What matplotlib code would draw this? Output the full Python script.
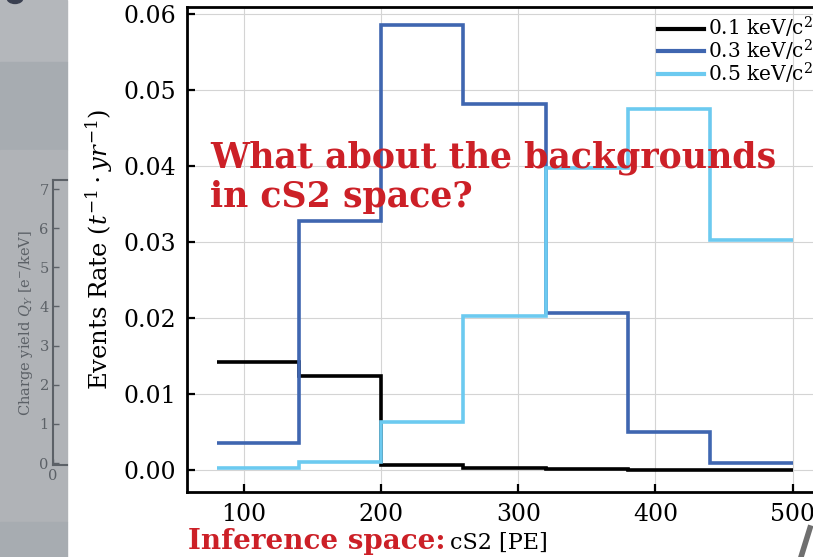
import matplotlib.pyplot as plt
from matplotlib.patches import Rectangle, Circle
from matplotlib.lines import Line2D

# cS2 bin edges [PE]
edges = [80, 140, 200, 260, 320, 380, 440, 500]

# event rates per bin (t^-1 yr^-1)
rate_01 = [0.0142, 0.0124, 0.0007, 0.0002, 0.0001, 0.0, 0.0]
rate_03 = [0.0036, 0.0328, 0.0585, 0.0482, 0.0207, 0.0050, 0.0009]
rate_05 = [0.0002, 0.0011, 0.0063, 0.0202, 0.0397, 0.0475, 0.0302]

labels = ['0.1 keV/c$^2$', '0.3 keV/c$^2$', '0.5 keV/c$^2$']
colors = ['black', '#3f66b0', '#6ccaf0']

# the half-hidden panel on the left
qy_ticks = [0, 1, 2, 3, 4, 5, 6, 7]

W, H = 813, 557
plt.rcParams['font.family'] = 'DejaVu Serif'
plt.rcParams['mathtext.fontset'] = 'dejavuserif'

fig = plt.figure(figsize=(W / 100, H / 100), dpi=100)
fig.patch.set_facecolor('white')

# grey slide strip on the left
for y0, y1, c in [(0, 62, '#b4b7bb'), (62, 150, '#a7acb1'),
                  (150, 522, '#b0b3b7'), (522, 557, '#a7acb1')]:
    fig.patches.append(Rectangle((0, 1 - y1 / H), 67 / W, (y1 - y0) / H,
                                 transform=fig.transFigure, color=c, zorder=-5))
fig.patches.append(Circle((15 / W, 1 + 2 / H), 8 / W, transform=fig.transFigure,
                          color='#3a4050', zorder=-4))

gc = '#5c6167'
ax0 = fig.add_axes([53 / W, 1 - 465 / H, 14 / W, 285 / H])
ax0.set_zorder(3)
ax0.set_facecolor('none')
ax0.set_ylim(-0.05, 7.23)
ax0.set_xlim(0, 10)
ax0.set_yticks(qy_ticks)
ax0.set_xticks([0])
ax0.spines['right'].set_visible(False)
for s in ['left', 'top', 'bottom']:
    ax0.spines[s].set_color(gc)
    ax0.spines[s].set_linewidth(1.5)
ax0.tick_params(direction='in', colors=gc, labelsize=10.5, length=4, width=1, pad=3)
ax0.set_ylabel('Charge yield $Q_Y$ [e$^{-}$/keV]', color=gc, fontsize=10.5, labelpad=3)

# main plot
ax = fig.add_axes([187 / W, 1 - 492 / H, 633 / W, 485 / H])
ax.set_zorder(2)
ax.stairs(rate_01, edges, baseline=None, color=colors[0], lw=2.6, label=labels[0])
ax.stairs(rate_03, edges, baseline=None, color=colors[1], lw=2.6, label=labels[1])
ax.stairs(rate_05, edges, baseline=None, color=colors[2], lw=2.6, label=labels[2])
ax.set_xlim(58.4, 520)
ax.set_ylim(-0.0029, 0.0609)
ax.set_xticks([100, 200, 300, 400, 500])
ax.set_yticks([0.0, 0.01, 0.02, 0.03, 0.04, 0.05, 0.06])
ax.grid(color='#d4d4d4', lw=0.8)
ax.set_axisbelow(True)
for s in ax.spines.values():
    s.set_linewidth(2)
ax.tick_params(direction='in', labelsize=17, length=6, width=1.6, pad=8)
ax.set_ylabel('Events Rate ($t^{-1}\\cdot yr^{-1}$)', fontsize=17.5, labelpad=6)

handles = [Line2D([], [], color=c, lw=3) for c in colors]
fig.legend(handles, labels, loc='upper left', bbox_to_anchor=(650 / W, 1 - 7 / H),
           frameon=False, fontsize=14.5, handlelength=2.3, handletextpad=0.2,
           labelspacing=-0.12, borderaxespad=0)

red = '#cc2027'
fig.text(210 / W, 1 - 207 / H, 'What about the backgrounds\nin cS2 space?',
         color=red, fontsize=25, fontweight='bold', linespacing=1.2, va='baseline')
fig.text(188 / W, 1 - 549 / H, 'Inference space:', color=red, fontsize=20,
         fontweight='bold', va='baseline')
fig.text(450 / W, 1 - 549 / H, 'cS2 [PE]', fontsize=16, va='baseline')

fig.lines.append(Line2D([810 / W, 801 / W], [1 - 528 / H, 0], transform=fig.transFigure,
                        color='#6f6f6f', lw=4))

fig.savefig('out.png', dpi=100)
